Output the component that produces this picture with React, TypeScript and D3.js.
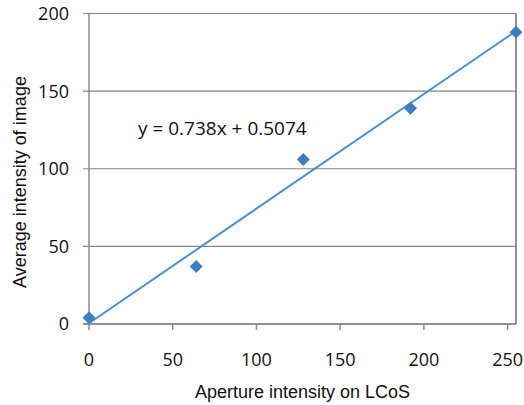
import * as d3 from "d3";

const apertureValues = [0, 64, 128, 192, 255];
const imageValues = [4, 37, 106, 139, 188];
const xTicks = [0, 50, 100, 150, 200, 250];
const yTicks = [0, 50, 100, 150, 200];
const slope = 0.738;
const intercept = 0.5074;
const equationLabel = "y = 0.738x + 0.5074";

export default function App() {
  const width = 524;
  const height = 405;
  const margin = { top: 13.5, right: 8, bottom: 81, left: 89 };

  const x = d3
    .scaleLinear()
    .domain([0, 255])
    .range([margin.left, width - margin.right]);
  const y = d3
    .scaleLinear()
    .domain([0, 200])
    .range([height - margin.bottom, margin.top]);

  const fitLine = d3
    .line<number>()
    .x((d) => x(d))
    .y((d) => y(slope * d + intercept));

  // square turned 45 degrees, like Excel's diamond marker
  const diamond = d3.symbol(d3.symbolSquare, 84)();
  const tickFont = "'Open Sans', sans-serif";
  const titleFont = "'Liberation Sans', Arial, sans-serif";

  return (
    <svg
      width={width}
      height={height}
      style={{ position: "absolute", left: 0, top: 0, background: "#fff" }}
    >
      {/* grid + y ticks */}
      {yTicks.map((t) => (
        <g key={t}>
          <line
            x1={x(0) - 6}
            x2={x(255)}
            y1={y(t)}
            y2={y(t)}
            stroke={t === 0 ? "#6e6e6e" : "#858585"}
            strokeWidth={t === 0 ? 1.5 : 1.2}
          />
          <text
            x={x(0) - 20}
            y={y(t)}
            dy="0.36em"
            textAnchor="end"
            fontFamily={tickFont}
            fontSize={18}
            fill="#111"
          >
            {t}
          </text>
        </g>
      ))}

      {/* spines */}
      <line x1={x(0)} x2={x(0)} y1={y(0)} y2={y(200)} stroke="#8a8a8a" strokeWidth={1.5} />
      <line x1={x(255)} x2={x(255)} y1={y(0)} y2={y(200)} stroke="#6e6e6e" strokeWidth={1.5} />

      {/* x ticks */}
      {xTicks.map((t) => (
        <g key={t}>
          <line x1={x(t)} x2={x(t)} y1={y(0)} y2={y(0) + 6} stroke="#8a8a8a" strokeWidth={1.5} />
          <text
            x={x(t)}
            y={366}
            textAnchor="middle"
            fontFamily={tickFont}
            fontSize={18}
            fill="#111"
          >
            {t}
          </text>
        </g>
      ))}

      {/* trend line */}
      <path
        d={fitLine([0, 255]) ?? ""}
        fill="none"
        stroke="#4a8fcf"
        strokeWidth={2}
      />

      {/* points */}
      {apertureValues.map((a, i) => (
        <path
          key={a}
          d={diamond ?? ""}
          transform={`translate(${x(a)},${y(imageValues[i])}) rotate(45)`}
          fill="#3b7fc2"
        />
      ))}

      <text
        x={138}
        y={135}
        fontFamily={tickFont}
        fontSize={19}
        fill="#111"
      >
        {equationLabel}
      </text>

      {/* axis titles */}
      <text
        x={(x(0) + x(255)) / 2}
        y={398}
        textAnchor="middle"
        fontFamily={titleFont}
        fontSize={18}
        fill="#111"
      >
        Aperture intensity on LCoS
      </text>
      <text
        transform={`translate(26,${182}) rotate(-90)`}
        textAnchor="middle"
        fontFamily={titleFont}
        fontSize={18}
        fill="#111"
      >
        Average intensity of image
      </text>
    </svg>
  );
}
